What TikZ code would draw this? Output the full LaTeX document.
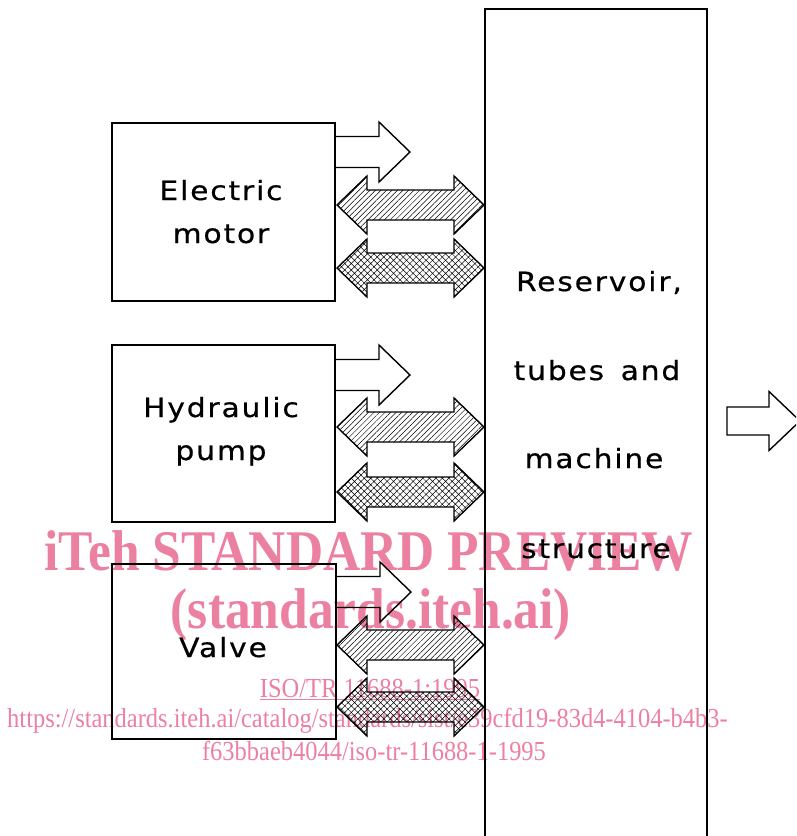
\documentclass[tikz,border=0pt]{standalone}
\usepackage{fontspec}
\setmainfont{Liberation Serif}
\newfontfamily\plotfont[FakeStretch=1.12,LetterSpace=7,FakeBold=0.6]{DejaVu Sans}
\usetikzlibrary{patterns.meta}
\definecolor{wm}{RGB}{236,128,160}
\begin{document}
\begin{tikzpicture}[x=1pt,y=-1pt,
  box/.style={draw, line width=1.5pt, inner sep=0pt},
  lbl/.style={anchor=base, inner sep=0pt, font={\plotfont\fontsize{26.5}{30}\selectfont}},
  wmbig/.style={anchor=base, inner sep=0pt, text=wm, font={\bfseries\fontsize{57.5}{60}\selectfont}},
  wmsmall/.style={anchor=base, inner sep=0pt, text=wm, font={\fontsize{27.5}{30}\selectfont}},
  outline/.style={draw, line width=1.4pt, line join=miter},
  hatchA/.style={pattern={Lines[angle=45,distance=3.9pt,line width=0.5pt]}},
  hatchX/.style={pattern={Hatch[angle=45,distance=4.6pt,line width=0.5pt]}},
  pics/sarrow/.style={code={
    \draw[outline] (0,-15.5) -- (44,-15.5) -- (44,-30) -- (75,0) -- (44,30) -- (44,15.5) -- (0,15.5);}},
  pics/darrow/.style={code={
    \draw[outline,#1] (0,0) -- (30,-29) -- (30,-15) -- (117,-15) -- (117,-29) -- (147,0)
       -- (117,29) -- (117,15) -- (30,15) -- (30,29) -- cycle;}},
  pics/oarrow/.style={code={
    \draw[outline] (0,-14) -- (42,-14) -- (42,-29.5) -- (73,0) -- (42,29.5) -- (42,14) -- (0,14) -- cycle;}}
]
\useasboundingbox (0,0) rectangle (796,836);
\begin{scope}
\clip (0,0) rectangle (796,836);

% watermark
\node[wmbig] (wm1) at (369,570) {\scalebox{0.895}[1]{iTeh STANDARD PREVIEW}};
\node[wmbig] (wm2) at (371,628) {\scalebox{0.895}[1]{(standards.iteh.ai)}};
\node[wmsmall] (wm3) at (370,697) {\scalebox{0.89}[1]{\underline{ISO/TR 11688-1:1995}}};
\node[wmsmall] (wm4) at (367.5,727) {\scalebox{0.89}[1]{https://standards.iteh.ai/catalog/standards/sist/e39cfd19-83d4-4104-b4b3-}};
\node[wmsmall] (wm5) at (374,760) {\scalebox{0.89}[1]{f63bbaeb4044/iso-tr-11688-1-1995}};

% boxes
\node[box, minimum width=223pt, minimum height=178pt] (motor) at (223.5,212) {};
\node[box, minimum width=223pt, minimum height=177pt] (pump) at (223.5,433.5) {};
\node[box, minimum width=224pt, minimum height=175pt] (valve) at (224,651.5) {};
\node[minimum width=222pt, minimum height=850pt, anchor=north west, inner sep=0pt, outer sep=0pt] (res) at (485,9) {};
\draw[box] (res.south west) -- (res.north west) -- (res.north east) -- (res.south east);

% labels
\node[lbl] (l1) at (221,200) {Electric};
\node[lbl] (l2) at (221,243) {motor};
\node[lbl] (l3) at (221,417) {Hydraulic};
\node[lbl] (l4) at (221,460) {pump};
\node[lbl] (l5) at (223,657) {Valve};
\node[lbl] (r1) at (599,291) {Reservoir,};
\node[lbl] (r2) at (597,380) {tubes\hspace{0.2em} and};
\node[lbl] (r3) at (594,468) {machine};
\node[lbl] (r4) at (596,558) {structure};

% arrows: electric motor
\pic at (335,152) {sarrow};
\pic at (337,205) {darrow=hatchA};
\pic at (337,268) {darrow=hatchX};
% hydraulic pump
\pic at (335,375) {sarrow};
\pic at (337,427) {darrow=hatchA};
\pic at (337,492) {darrow=hatchX};
% valve
\pic at (336,592) {sarrow};
\pic at (337,645) {darrow=hatchA};
\pic at (337,707) {darrow=hatchX};
% output
\pic at (727,421) {oarrow};
\end{scope}
\end{tikzpicture}
\end{document}
